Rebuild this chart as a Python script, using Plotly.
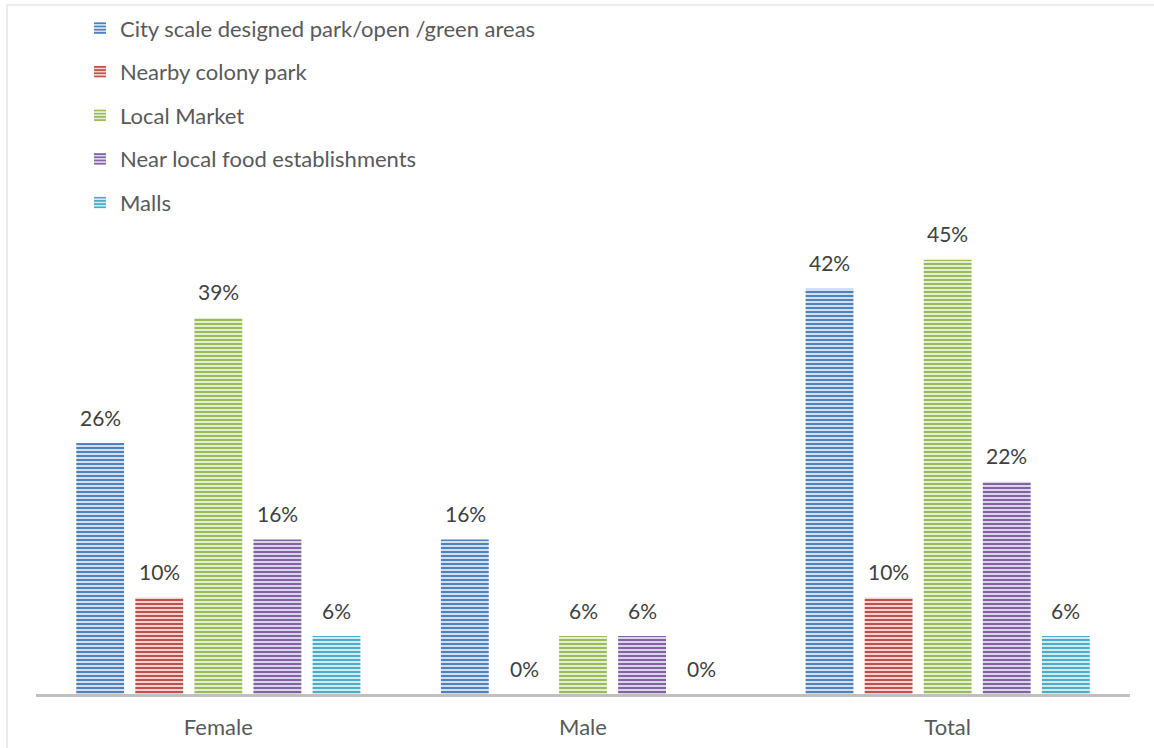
import plotly.graph_objects as go

categories = ["Female", "Male", "Total"]
series_names = [
    "City scale designed park/open /green areas",
    "Nearby colony park",
    "Local Market",
    "Near local food establishments",
    "Malls",
]
city_park = [0.26, 0.16, 0.42]
colony_park = [0.10, 0.00, 0.10]
local_market = [0.39, 0.06, 0.45]
food_places = [0.16, 0.06, 0.22]
malls = [0.06, 0.00, 0.06]
series_values = [city_park, colony_park, local_market, food_places, malls]

stripe_colors = ["#4f81bd", "#c0504d", "#9bbb59", "#8064a2", "#4bacc6"]
light_colors = ["#d3deee", "#f0d3d2", "#e4eed5", "#dcd4e8", "#d2ebf2"]

FONT = "Lato"
LABEL_COLOR = "#404040"
TEXT_COLOR = "#595959"
FONT_SIZE = 22

fig = go.Figure()
for i, (name, vals) in enumerate(zip(series_names, series_values)):
    fig.add_trace(go.Bar(
        name=name,
        x=categories,
        y=vals,
        legendgroup=f"g{i}",
        marker=dict(
            color=stripe_colors[i],
            line=dict(width=0),
            pattern=dict(shape="-", fgcolor=stripe_colors[i], bgcolor=light_colors[i],
                         size=4, solidity=0.5, fillmode="replace"),
        ),
        hoverinfo="skip",
    ))

# value labels above each bar, offset to each bar's slot inside its group
slot_px = 59
n = len(series_names)
for i, vals in enumerate(series_values):
    for cat, v in zip(categories, vals):
        fig.add_annotation(
            x=cat, y=v, xref="x", yref="y",
            text=f"{round(v * 100)}%",
            showarrow=False,
            xshift=(i - (n - 1) / 2) * slot_px,
            yshift=26,
            font=dict(family=FONT, size=FONT_SIZE - 1, color=LABEL_COLOR),
        )

# light outer frame of the chart
fig.add_shape(type="rect", xref="paper", yref="paper",
              x0=-0.0265, x1=1.2, y0=-0.3, y1=1.485,
              line=dict(color="#d9d9d9", width=1), fillcolor="rgba(0,0,0,0)")

fig.update_layout(
    width=1154, height=748,
    margin=dict(l=36, r=24, t=230, b=54, autoexpand=False),
    paper_bgcolor="white", plot_bgcolor="white",
    barmode="group", bargap=0.19, bargroupgap=0.19,
    showlegend=True,
    legend=dict(
        x=0.0402, y=1.48, xanchor="left", yanchor="top",
        orientation="v", traceorder="grouped", tracegroupgap=12,
        font=dict(family=FONT, size=FONT_SIZE, color=TEXT_COLOR),
        bgcolor="rgba(0,0,0,0)",
    ),
    xaxis=dict(
        showline=True, linecolor="#bfbfbf", linewidth=3,
        ticks="", showgrid=False, zeroline=False,
        tickfont=dict(family=FONT, size=FONT_SIZE, color=TEXT_COLOR),
        ticklabelstandoff=12,
    ),
    yaxis=dict(
        range=[0, 0.4808], visible=False, showgrid=False, zeroline=False,
    ),
    font=dict(family=FONT),
)

fig.write_html("out.html")
